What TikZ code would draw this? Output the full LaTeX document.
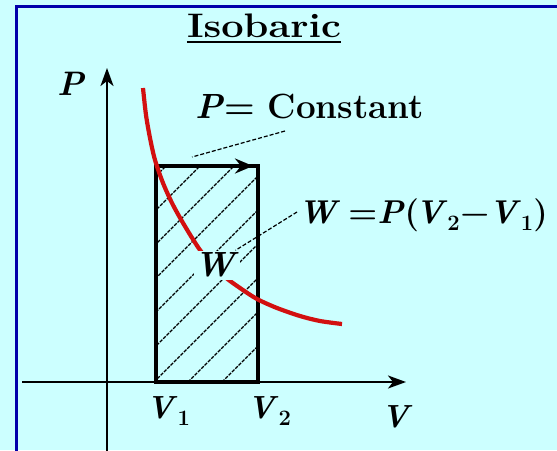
\documentclass[tikz,border=0pt]{standalone}
\usepackage{fontspec}
\usepackage{graphicx}
\usetikzlibrary{arrows.meta}
\definecolor{bg}{RGB}{204,255,255}
\definecolor{frameblue}{RGB}{0,0,170}
\definecolor{curvered}{RGB}{210,16,16}
\newcommand{\bivar}[1]{\textbf{\textit{#1}}}
\newcommand{\sbs}[1]{\raisebox{-0.22em}{\fontsize{22}{24}\selectfont\bfseries #1}}
\tikzset{
  axis/.style={line width=2.1pt, -{Stealth[length=18pt,width=13pt,inset=5pt]}},
  boxline/.style={line width=3.2pt},
  hatch/.style={line width=1.2pt, dash pattern=on 3.5pt off 1.2pt},
  leader/.style={line width=1.2pt, dash pattern=on 4pt off 2pt},
  lab/.style={inner sep=0pt, anchor=base west},
}
\begin{document}
\begin{tikzpicture}[x=1pt,y=-1pt]
\fill[bg] (0,0) rectangle (557,450);
\useasboundingbox (0,0) rectangle (557,450);
% frame
\draw[frameblue, line width=3pt] (16.5,452) -- (16.5,6.5) -- (560,6.5);
% title
\node[inner sep=0pt, anchor=base] (title) at (264,37)
  {\fontsize{34}{36}\selectfont\bfseries\scalebox{1.17}[1]{Isobaric}};
\draw[line width=2pt] ([yshift=-5pt]title.base west) -- ([yshift=-5pt]title.base east);
% hatching
\begin{scope}
  \clip (156,166) rectangle (258,382);
  \foreach \c in {-84,-50,-16,18,52,86,120,154,188,222,256}
    \draw[hatch] (\c,382) -- ++(260,-260);
\end{scope}
% rectangle
\draw[boxline] (156,166) rectangle (258,382);
\coordinate (tl) at (156,166);
\coordinate (tip) at (253,166);
\draw[boxline, -{Stealth[length=18pt,width=15pt,inset=6pt]}] (tl) -- (tip);
% axes
\coordinate (pbot) at (107,452);
\coordinate (ptop) at (107,68);
\draw[axis] (pbot) -- (ptop);
\coordinate (vleft) at (22,382);
\coordinate (vright) at (406,382);
\draw[axis] (vleft) -- (vright);
% red curve
\draw[curvered, line width=4.2pt] plot[smooth] coordinates {
  (143,88) (146,115) (150,138) (155,160) (163,183) (173,205) (186,228)
  (200,250) (212,264) (225,277) (240,288) (257,299) (277,308) (300,316)
  (320,321) (342,324)};
% small W label
\node[fill=bg, inner sep=1pt, minimum height=29pt, font=\fontsize{35}{38}\selectfont] (wsmall) at (217,265) {\bivar{W}};
% formula
\node[lab, font=\fontsize{33}{38}\selectfont\bfseries] (formula) at (298,223)
  {\bivar{W}\hspace{0.25em}=\bivar{P}(\hspace{-0.12em}\bivar{V}\sbs{2}\hspace{0.02em}−\hspace{-0.02em}\bivar{V}\sbs{1})};
\coordinate (wS) at (297,212);
\draw[leader] (wS) -- ([xshift=-5pt]wsmall.north east);
% P = Constant
\node[lab, font=\fontsize{35}{38}\selectfont\bfseries] (pconst) at (195,118) {\bivar{P}= Constant};
\coordinate (pcS) at (285,131);
\coordinate (pcE) at (192,157);
\draw[leader] (pcS) -- (pcE);
% axis labels
\node[lab, font=\fontsize{34}{36}\selectfont] (plab) at (57,95) {\bivar{P}};
\node[lab, font=\fontsize{32}{34}\selectfont\bfseries] (v1) at (146,418) {\bivar{V}\sbs{1}};
\node[lab, font=\fontsize{32}{34}\selectfont\bfseries] (v2) at (247,418) {\bivar{V}\sbs{2}};
\node[lab, font=\fontsize{32}{34}\selectfont] (vlab) at (381,427) {\bivar{V}};
\end{tikzpicture}
\end{document}
